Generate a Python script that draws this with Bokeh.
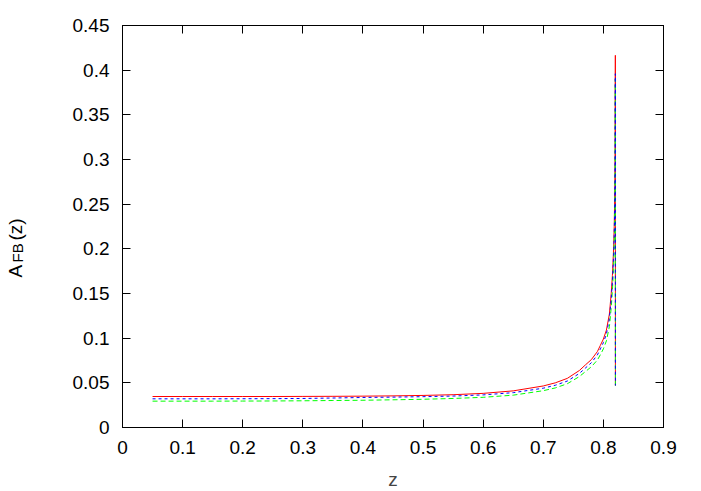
import math
from bokeh.plotting import figure
from bokeh.layouts import row
from bokeh.models import FixedTicker, LinearAxis, Label, Range1d
from bokeh.embed import file_html
from bokeh.resources import INLINE

# ---- data ----
z = [0.05, 0.1, 0.15, 0.2, 0.25, 0.3, 0.35, 0.4, 0.45, 0.5, 0.55, 0.6, 0.65, 0.7,
     0.72, 0.74, 0.76, 0.77, 0.78, 0.79, 0.795, 0.80, 0.805, 0.81, 0.813, 0.815,
     0.817, 0.818, 0.819, 0.8195, 0.8199, 0.82]

afb_red = [0.0347, 0.0347, 0.0347, 0.0347, 0.0347, 0.0348, 0.0349, 0.0351, 0.0354, 0.0359,
           0.0367, 0.0382, 0.0410, 0.0465, 0.0500, 0.0550, 0.0638, 0.0700, 0.0760, 0.0850,
           0.0920, 0.0990, 0.1090, 0.1270, 0.1500, 0.1700, 0.2000, 0.2250, 0.2650, 0.3100,
           0.4166, 0.0470]

afb_blue = [0.0321, 0.0321, 0.0321, 0.0322, 0.0323, 0.0325, 0.0330, 0.0336, 0.0340, 0.0345,
            0.0352, 0.0365, 0.0390, 0.0440, 0.0473, 0.0520, 0.0605, 0.0665, 0.0725, 0.0812,
            0.0880, 0.0950, 0.1045, 0.1220, 0.1440, 0.1630, 0.1920, 0.2150, 0.2550, 0.3000,
            0.3960, 0.0470]

afb_green = [0.0295, 0.0295, 0.0295, 0.0296, 0.0297, 0.0299, 0.0302, 0.0305, 0.0310, 0.0316,
             0.0325, 0.0338, 0.0362, 0.0412, 0.0443, 0.0490, 0.0570, 0.0625, 0.0680, 0.0755,
             0.0815, 0.0880, 0.0970, 0.1130, 0.1340, 0.1530, 0.1830, 0.2050, 0.2450, 0.2900,
             0.3900, 0.0470]

x_ticks = [0.0, 0.1, 0.2, 0.3, 0.4, 0.5, 0.6, 0.7, 0.8, 0.9]
x_tick_labels = ["0", "0.1", "0.2", "0.3", "0.4", "0.5", "0.6", "0.7", "0.8", "0.9"]
y_ticks = [0.0, 0.05, 0.1, 0.15, 0.2, 0.25, 0.3, 0.35, 0.4, 0.45]
y_tick_labels = ["0", "0.05", "0.1", "0.15", "0.2", "0.25", "0.3", "0.35", "0.4", "0.45"]

FONT = "Liberation Sans"
FS = "19px"
TOTAL_H = 483
LEFT_W = 40

# ---- narrow strip holding the rotated y-axis title A_FB(z) ----
lab = figure(width=LEFT_W, height=TOTAL_H, output_backend="svg", toolbar_location=None,
             x_axis_type=None, y_axis_type=None,
             x_range=Range1d(0, 1), y_range=Range1d(0, 1),
             min_border=0, min_border_left=0, min_border_right=0,
             min_border_top=0, min_border_bottom=0)
lab.outline_line_color = None
lab.xgrid.visible = False
lab.ygrid.visible = False
lab.background_fill_color = "white"
lab.border_fill_color = "white"

lab_kw = dict(x_units="screen", y_units="screen", angle=math.pi / 2,
              text_font=FONT, text_color="black", text_align="left",
              text_baseline="alphabetic")
lab.add_layout(Label(x=15, y=141, text="A", text_font_size="19px", **lab_kw))
lab.add_layout(Label(x=16.5, y=156, text="FB", text_font_size="15px", **lab_kw))
lab.add_layout(Label(x=15, y=178, text="(z)", text_font_size="19px", **lab_kw))

# ---- main plot ----
p = figure(frame_width=541, frame_height=402, output_backend="svg", toolbar_location=None,
           x_range=Range1d(0, 0.9), y_range=Range1d(0, 0.45),
           min_border_left=122 - LEFT_W, min_border_right=27, min_border_top=25,
           min_border_bottom=TOTAL_H - 402 - 25)

p.xgrid.visible = False
p.ygrid.visible = False
p.outline_line_color = "black"
p.outline_line_width = 1
p.background_fill_color = "white"
p.border_fill_color = "white"

p.line(z, afb_red, line_color="#ff0000", line_width=1)
p.line(z, afb_green, line_color="#00ff00", line_width=1, line_dash="5 3")
p.line(z, afb_blue, line_color="#0000ff", line_width=1, line_dash="3 3")

def style_axis(ax, ticks, labels, show_labels=True):
    ax.ticker = FixedTicker(ticks=ticks)
    ax.major_label_overrides = {t: l for t, l in zip(ticks, labels)}
    ax.major_tick_in = 8
    ax.major_tick_out = 0
    ax.minor_tick_in = 0
    ax.minor_tick_out = 0
    ax.axis_line_color = "black"
    ax.major_tick_line_color = "black"
    ax.major_label_text_font = FONT
    ax.major_label_text_font_size = FS if show_labels else "0px"
    ax.major_label_text_color = "black"

xa = p.xaxis[0]
ya = p.yaxis[0]
style_axis(xa, x_ticks, x_tick_labels)
style_axis(ya, y_ticks, y_tick_labels)
xa.major_label_standoff = 13
ya.major_label_standoff = 13
xa.axis_label = "z"
xa.axis_label_text_font = FONT
xa.axis_label_text_font_size = FS
xa.axis_label_text_font_style = "normal"
xa.axis_label_standoff = 12

top = LinearAxis()
right = LinearAxis()
style_axis(top, x_ticks, [""] * len(x_ticks), show_labels=False)
style_axis(right, y_ticks, [""] * len(y_ticks), show_labels=False)
top.major_label_standoff = 0
right.major_label_standoff = 0
p.add_layout(top, "above")
p.add_layout(right, "right")

layout = row(lab, p, spacing=0)
open("out.html", "w").write(file_html(layout, INLINE))
